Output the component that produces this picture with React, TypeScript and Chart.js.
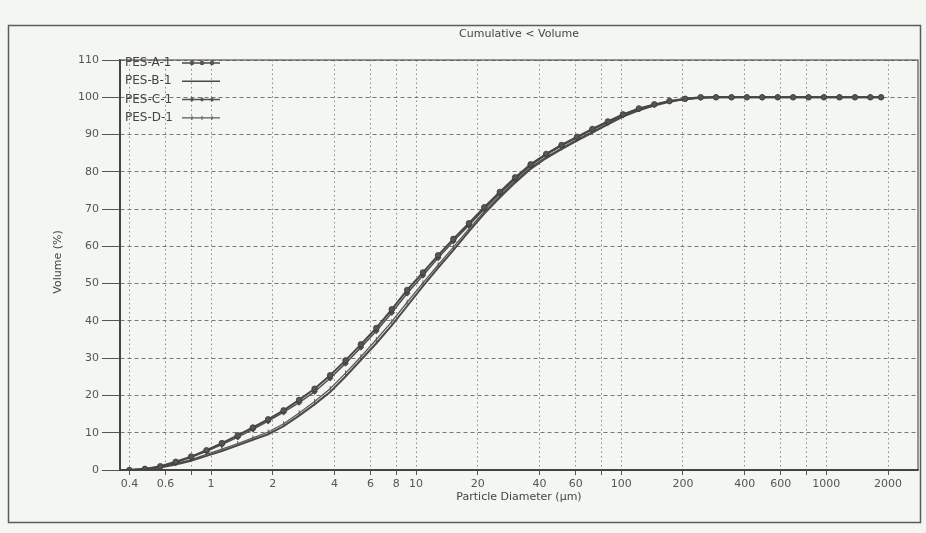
import React, { useEffect, useRef } from 'react';
import { Chart, registerables } from 'chart.js';

Chart.register(...registerables);

// Particle diameters (µm)
const SIZES = [
  0.4, 0.476, 0.566, 0.673, 0.8, 0.951, 1.13, 1.35, 1.6, 1.9,
  2.26, 2.69, 3.2, 3.81, 4.53, 5.38, 6.4, 7.61, 9.05, 10.8,
  12.8, 15.2, 18.1, 21.5, 25.6, 30.4, 36.2, 43.1, 51.2, 60.9,
  72.4, 86.1, 102, 122, 145, 172, 205, 244, 290, 345,
  410, 487, 580, 689, 819, 974, 1160, 1380, 1640, 1850,
];

// Cumulative volume (%)
const PES_A = [
  0, 0.3, 1.0, 2.2, 3.6, 5.3, 7.2, 9.3, 11.4, 13.6,
  16.0, 18.8, 21.8, 25.4, 29.4, 33.7, 38.1, 43.1, 48.3, 53.0,
  57.6, 62.0, 66.2, 70.5, 74.6, 78.5, 82.0, 84.8, 87.2, 89.4,
  91.5, 93.5, 95.4, 97.0, 98.1, 99.0, 99.6, 100, 100, 100,
  100, 100, 100, 100, 100, 100, 100, 100, 100, 100,
];
const PES_B = [
  0, 0.2, 0.7, 1.5, 2.5, 3.8, 5.1, 6.6, 8.1, 9.6,
  11.8, 14.6, 17.6, 20.9, 25.1, 29.5, 34.0, 38.8, 44.0, 49.3,
  54.2, 59.0, 64.0, 68.8, 73.1, 77.1, 80.8, 83.7, 86.1, 88.4,
  90.5, 92.7, 94.8, 96.5, 97.8, 98.8, 99.5, 99.9, 100, 100,
  100, 100, 100, 100, 100, 100, 100, 100, 100, 100,
];
const PES_C = [
  0, 0.3, 0.9, 2.0, 3.4, 5.0, 6.8, 8.8, 10.9, 13.1,
  15.5, 18.1, 21.0, 24.6, 28.6, 32.9, 37.3, 42.2, 47.4, 52.2,
  56.9, 61.4, 65.7, 70.0, 74.2, 78.1, 81.7, 84.6, 87.0, 89.2,
  91.3, 93.3, 95.2, 96.8, 98.0, 98.9, 99.5, 99.9, 100, 100,
  100, 100, 100, 100, 100, 100, 100, 100, 100, 100,
];
const PES_D = [
  0, 0.2, 0.8, 1.7, 2.8, 4.2, 5.6, 7.1, 8.6, 10.2,
  12.4, 15.3, 18.4, 21.8, 26.0, 30.4, 35.0, 39.8, 45.0, 50.2,
  55.0, 59.8, 64.7, 69.4, 73.6, 77.6, 81.2, 84.0, 86.4, 88.7,
  90.8, 92.9, 95.0, 96.7, 97.9, 98.9, 99.6, 99.9, 100, 100,
  100, 100, 100, 100, 100, 100, 100, 100, 100, 100,
];

const SERIES_NAMES = ['PES-A-1', 'PES-B-1', 'PES-C-1', 'PES-D-1'];

const X_GRID_TICKS = [0.4, 0.6, 0.8, 1, 2, 4, 6, 8, 10, 20, 40, 60, 80, 100, 200, 400, 600, 800, 1000, 2000];
const X_LABELED_TICKS = [0.4, 0.6, 1, 2, 4, 6, 8, 10, 20, 40, 60, 100, 200, 400, 600, 1000, 2000];
const Y_TICKS = [0, 10, 20, 30, 40, 50, 60, 70, 80, 90, 100, 110];

const CHART_TITLE = 'Cumulative < Volume';
const X_TITLE = 'Particle Diameter (µm)';
const Y_TITLE = 'Volume (%)';

const FONT = '"DejaVu Sans", "Liberation Sans", sans-serif';

function pts(values: number[]) {
  return SIZES.map((s, i) => ({ x: s, y: values[i] }));
}

const decorPlugin = {
  id: 'decor',
  beforeDraw(chart: any) {
    const { ctx, width, height } = chart;
    ctx.save();
    ctx.fillStyle = '#f4f6f2';
    ctx.fillRect(0, 0, width, height);
    ctx.strokeStyle = '#5c5c5c';
    ctx.lineWidth = 1.5;
    ctx.strokeRect(8.5, 25.5, 912, 497);
    ctx.restore();
  },
  afterDraw(chart: any) {
    const { ctx, chartArea: a } = chart;
    ctx.save();
    ctx.strokeStyle = '#555';
    ctx.lineWidth = 1.2;
    ctx.strokeRect(a.left, a.top, a.right - a.left, a.bottom - a.top);
    ctx.strokeStyle = '#444';
    ctx.lineWidth = 2;
    ctx.beginPath();
    ctx.moveTo(a.left, a.top);
    ctx.lineTo(a.left, a.bottom);
    ctx.lineTo(a.right, a.bottom);
    ctx.stroke();

    ctx.fillStyle = '#444';
    ctx.textAlign = 'center';
    ctx.textBaseline = 'middle';
    ctx.font = '11px ' + FONT;
    ctx.fillText(CHART_TITLE, (a.left + a.right) / 2, 34);
    ctx.fillText(X_TITLE, (a.left + a.right) / 2, 497);
    ctx.save();
    ctx.translate(58, 262);
    ctx.rotate(-Math.PI / 2);
    ctx.fillText(Y_TITLE, 0, 0);
    ctx.restore();

    // legend inside plot, top-left
    ctx.textAlign = 'left';
    ctx.font = '12px ' + FONT;
    chart.data.datasets.forEach((ds: any, i: number) => {
      const y = a.top + 3 + i * 18.3;
      const x0 = a.left + 5;
      ctx.fillStyle = '#444';
      ctx.fillText(ds.label, x0, y);
      const sx = a.left + 62;
      const ex = a.left + 100;
      ctx.strokeStyle = ds.borderColor;
      ctx.lineWidth = Math.min(ds.borderWidth, 1.5);
      ctx.beginPath();
      ctx.moveTo(sx, y);
      ctx.lineTo(ex, y);
      ctx.stroke();
      if (ds.pointRadius > 0) {
        [sx + 10, sx + 20, sx + 30].forEach((px) => {
          ctx.fillStyle = ds.pointBackgroundColor;
          ctx.strokeStyle = ds.pointBorderColor;
          ctx.lineWidth = 1;
          const r = ds.pointRadius * 0.8;
          ctx.beginPath();
          if (ds.pointStyle === 'rectRot') {
            ctx.moveTo(px, y - r);
            ctx.lineTo(px + r, y);
            ctx.lineTo(px, y + r);
            ctx.lineTo(px - r, y);
            ctx.closePath();
            ctx.fill();
          } else if (ds.pointStyle === 'line') {
            ctx.moveTo(px, y - r);
            ctx.lineTo(px, y + r);
            ctx.stroke();
          } else {
            ctx.arc(px, y, r, 0, Math.PI * 2);
            ctx.fill();
          }
        });
      }
    });
    ctx.restore();
  },
};

export default function App() {
  const canvasRef = useRef<HTMLCanvasElement | null>(null);

  useEffect(() => {
    if (!canvasRef.current) return;
    const chart = new Chart(canvasRef.current, {
      type: 'line',
      data: {
        datasets: [
          {
            label: SERIES_NAMES[0],
            data: pts(PES_A),
            borderColor: '#474747',
            borderWidth: 2,
            pointStyle: 'circle',
            pointRadius: 2.8,
            pointBackgroundColor: '#555',
            pointBorderColor: '#3a3a3a',
            pointBorderWidth: 0.8,
            tension: 0,
          },
          {
            label: SERIES_NAMES[1],
            data: pts(PES_B),
            borderColor: '#4a4a4a',
            borderWidth: 2,
            pointRadius: 0,
            tension: 0,
          },
          {
            label: SERIES_NAMES[2],
            data: pts(PES_C),
            borderColor: '#505050',
            borderWidth: 1.5,
            pointStyle: 'rectRot',
            pointRadius: 2.8,
            pointBackgroundColor: '#505050',
            pointBorderColor: '#404040',
            pointBorderWidth: 0.8,
            tension: 0,
          },
          {
            label: SERIES_NAMES[3],
            data: pts(PES_D),
            borderColor: '#5a5a5a',
            borderWidth: 1.3,
            pointStyle: 'line',
            pointRotation: 90,
            pointRadius: 2.5,
            pointBackgroundColor: '#5a5a5a',
            pointBorderColor: '#5a5a5a',
            pointBorderWidth: 1,
            tension: 0,
          },
        ],
      } as any,
      options: {
        responsive: false,
        animation: false,
        devicePixelRatio: 1,
        layout: { padding: { top: 60, right: 8, left: 0, bottom: 0 } },
        plugins: {
          legend: { display: false },
          title: { display: false },
          tooltip: { enabled: false },
        },
        scales: {
          x: {
            type: 'logarithmic',
            min: 0.36,
            max: 2800,
            afterBuildTicks: (scale: any) => {
              scale.ticks = X_GRID_TICKS.map((v) => ({ value: v }));
            },
            afterFit: (scale: any) => {
              scale.height = 63;
            },
            ticks: {
              autoSkip: false,
              maxRotation: 0,
              minRotation: 0,
              padding: 3,
              color: '#555',
              font: { family: FONT, size: 11 },
              callback: (v: any) => (X_LABELED_TICKS.includes(Number(v)) ? String(v) : ''),
            },
            grid: {
              color: '#8a8a8a',
              lineWidth: 1,
              drawTicks: true,
              tickLength: 5,
              tickColor: '#555',
              tickBorderDash: [],
            } as any,
            border: { display: true, color: '#444', width: 1.5, dash: [1.5, 3] },
          },
          y: {
            type: 'linear',
            min: 0,
            max: 110,
            afterBuildTicks: (scale: any) => {
              scale.ticks = Y_TICKS.map((v) => ({ value: v }));
            },
            afterFit: (scale: any) => {
              scale.width = 120;
            },
            ticks: {
              padding: 3,
              color: '#555',
              font: { family: FONT, size: 11 },
            },
            grid: {
              color: '#777',
              lineWidth: 1,
              drawTicks: true,
              tickLength: 18,
              tickColor: '#555',
              tickBorderDash: [],
            } as any,
            border: { display: true, color: '#444', width: 1.5, dash: [4, 3] },
          },
        },
      } as any,
      plugins: [decorPlugin],
    });
    return () => chart.destroy();
  }, []);

  return (
    <div style={{ position: 'absolute', left: 0, top: 0, width: 926, height: 533 }}>
      <canvas ref={canvasRef} width={926} height={533} />
    </div>
  );
}
